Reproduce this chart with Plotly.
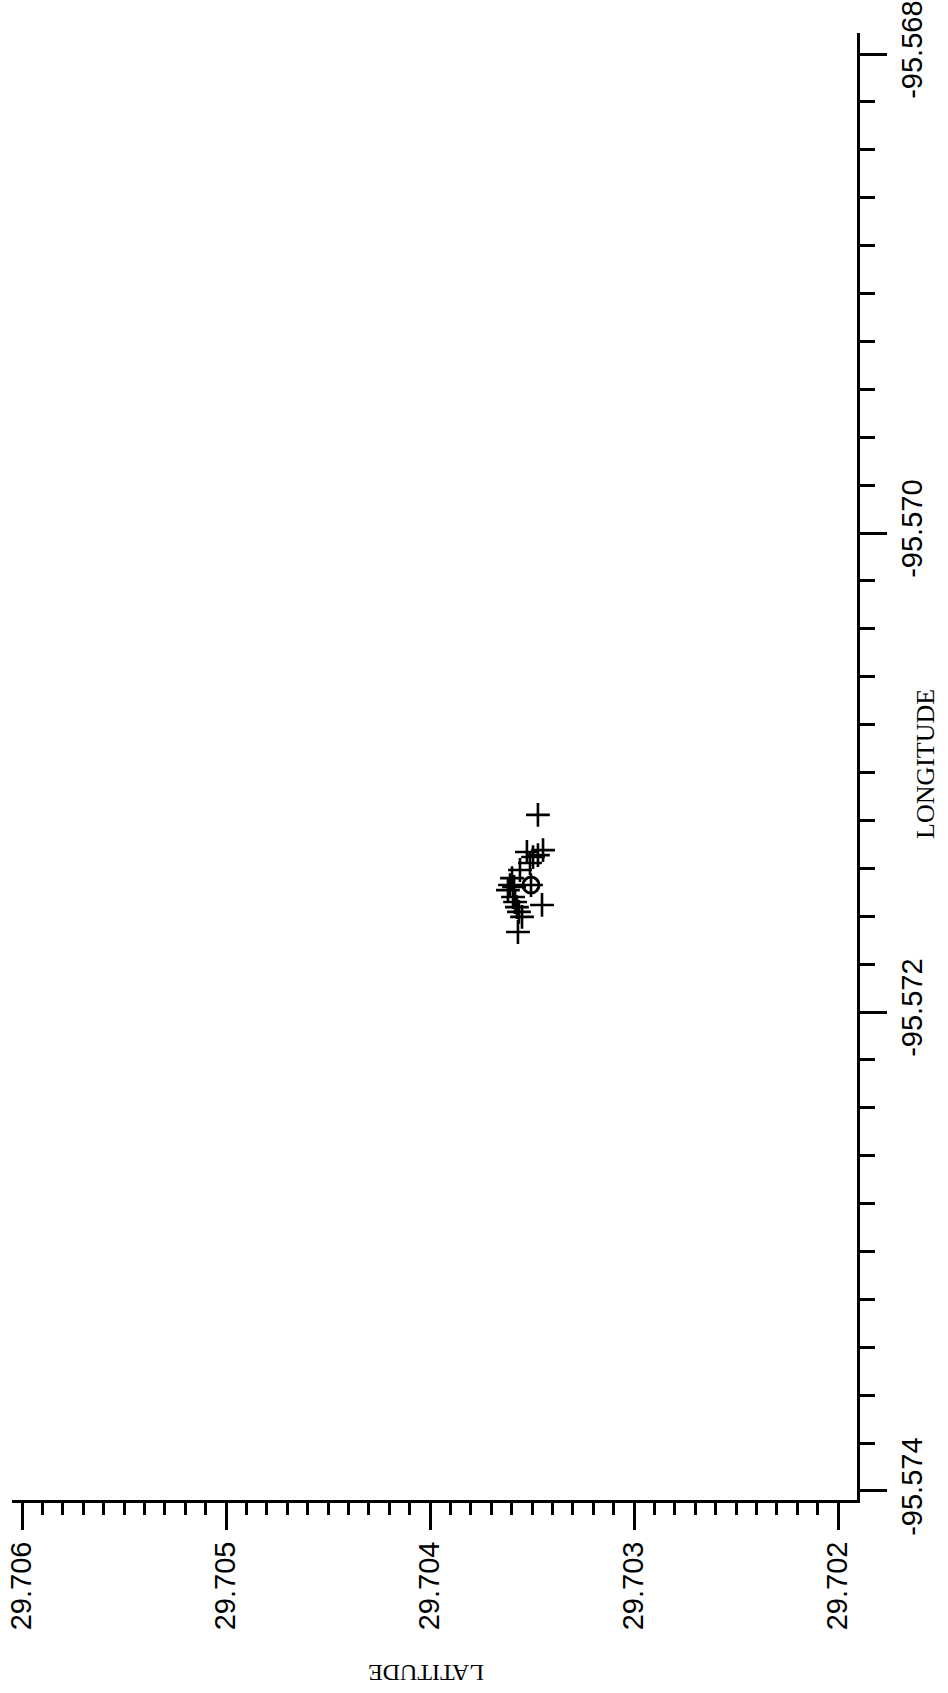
import plotly.graph_objects as go

# Measured positions (latitude, longitude) of the "+" points
lat_pts = [29.703471, 29.703525, 29.703446, 29.703495, 29.703471, 29.703510,
           29.703559, 29.703598, 29.703608, 29.703618, 29.703588, 29.703505,
           29.703593, 29.703583, 29.703574, 29.703564, 29.703549, 29.703451,
           29.703569]
lon_pts = [-95.571177, -95.571332, -95.571324, -95.571353, -95.571345, -95.571378,
           -95.571407, -95.571441, -95.571470, -95.571491, -95.571478, -95.571470,
           -95.571520, -95.571541, -95.571562, -95.571582, -95.571603, -95.571553,
           -95.571666]

# Circle marker (reference / mean location)
lat_ref = [29.703505]
lon_ref = [-95.571470]

lat_ticks = [29.706, 29.705, 29.704, 29.703, 29.702]
lat_labels = ["29.706", "29.705", "29.704", "29.703", "29.702"]
lon_ticks = [-95.568, -95.570, -95.572, -95.574]
lon_labels = ["-95.568", "-95.570", "-95.572", "-95.574"]

fig = go.Figure()
fig.add_trace(go.Scatter(
    x=lat_pts, y=lon_pts, mode="markers",
    marker=dict(symbol="cross-thin", size=17, line=dict(width=2.6, color="black"), color="black"),
    showlegend=False, hoverinfo="skip"))
fig.add_trace(go.Scatter(
    x=lat_ref, y=lon_ref, mode="markers",
    marker=dict(symbol="circle-open", size=16, line=dict(width=3, color="black"), color="black"),
    showlegend=False, hoverinfo="skip"))

tickfont = dict(family="Liberation Sans, Arial, sans-serif", size=29, color="black")

W, H = 948, 1693
PL, PR, PT, PB = 12, 857, 33, 1500  # plot-area edges in window pixels
fig.update_layout(
    width=W, height=H,
    margin=dict(l=PL, r=W - PR, t=PT, b=H - PB, autoexpand=False),
    paper_bgcolor="white", plot_bgcolor="white",
    xaxis=dict(
        range=[29.706049, 29.701907], automargin=False,
        showgrid=False, zeroline=False,
        showline=True, linecolor="black", linewidth=3,
        ticks="outside", ticklen=27, tickwidth=3, tickcolor="black",
        tickvals=lat_ticks, ticktext=lat_labels,
        tickangle=-90, tickfont=tickfont, ticklabeloverflow="allow",
        minor=dict(dtick=0.0001, ticks="outside", ticklen=12, tickwidth=3, tickcolor="black", showgrid=False),
    ),
    yaxis=dict(
        range=[-95.5740376, -95.5679123], automargin=False,
        side="right",
        showgrid=False, zeroline=False,
        showline=True, linecolor="black", linewidth=3,
        ticks="outside", ticklen=27, tickwidth=3, tickcolor="black",
        tickvals=lon_ticks, ticktext=lon_labels,
        tickangle=-90, tickfont=tickfont, ticklabeloverflow="allow",
        minor=dict(dtick=0.0002, ticks="outside", ticklen=15, tickwidth=3, tickcolor="black", showgrid=False),
    ),
    annotations=[
        dict(text="LATITUDE", xref="paper", yref="paper",
             x=(426 - PL) / (PR - PL), y=-(1673 - PB) / (PB - PT),
             showarrow=False, textangle=180,
             font=dict(family="Liberation Serif, Times New Roman, serif", size=24, color="black"),
             xanchor="center", yanchor="middle"),
        dict(text="LONGITUDE", xref="paper", yref="paper",
             x=1 + (926 - PR) / (PR - PL), y=(PB - 764) / (PB - PT),
             showarrow=False, textangle=-90,
             font=dict(family="Liberation Serif, Times New Roman, serif", size=26, color="black"),
             xanchor="center", yanchor="middle"),
    ],
)

# remove the default 8px page margin so the figure fills the window exactly
fig.write_html("out.html", config={"displayModeBar": False},
               post_script="document.body.style.margin='0';")
